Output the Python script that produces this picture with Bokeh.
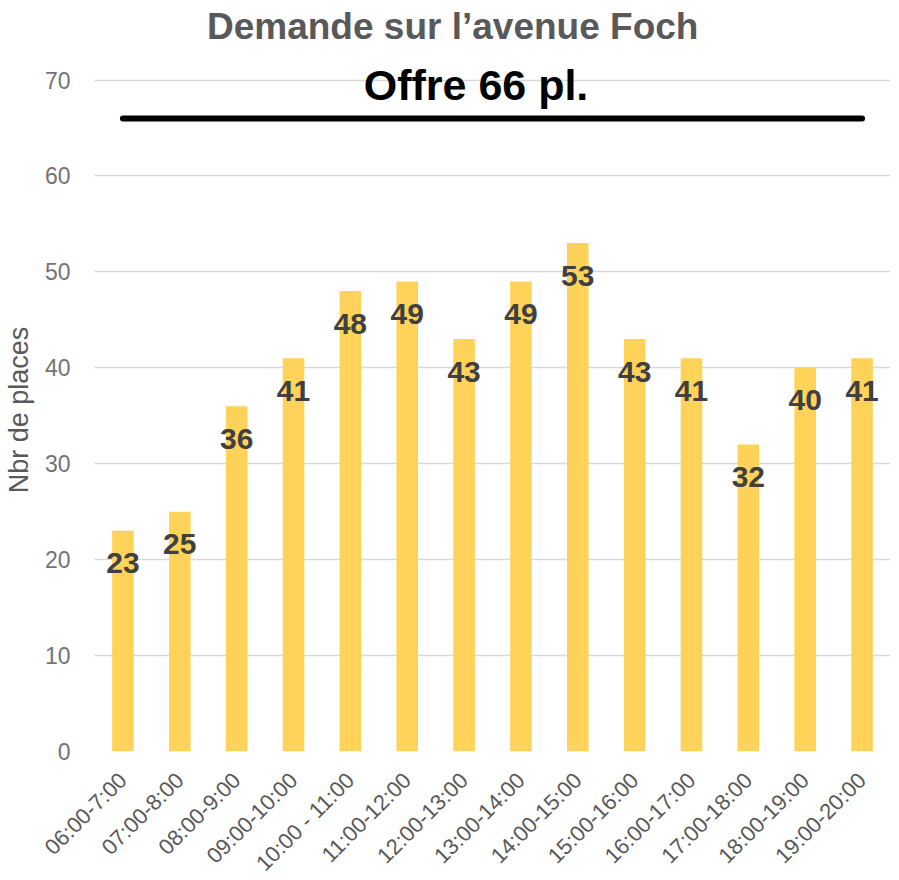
import math
from bokeh.plotting import figure
from bokeh.layouts import column
from bokeh.models import Range1d, FixedTicker, ColumnDataSource
from bokeh.core.properties import value
from bokeh.embed import file_html
from bokeh.resources import INLINE

# ---- data ----
categories = ["06:00-7:00", "07:00-8:00", "08:00-9:00", "09:00-10:00", "10:00 - 11:00",
              "11:00-12:00", "12:00-13:00", "13:00-14:00", "14:00-15:00", "15:00-16:00",
              "16:00-17:00", "17:00-18:00", "18:00-19:00", "19:00-20:00"]
demande = [23, 25, 36, 41, 48, 49, 43, 49, 53, 43, 41, 32, 40, 41]
offre = 66
offre_label = "Offre 66 pl."
y_ticks = [0, 10, 20, 30, 40, 50, 60, 70]
title_text = "Demande sur l’avenue Foch"
y_title = "Nbr de places"

FONT = "Liberation Sans"
idx = list(range(len(categories)))

# ---- title strip ----
t = figure(frame_width=796, frame_height=50, x_range=Range1d(0, 1), y_range=Range1d(0, 1),
           min_border_left=87, min_border_right=0, min_border_top=0, min_border_bottom=0,
           output_backend="svg", toolbar_location=None, tools="")
t.axis.visible = False
t.grid.grid_line_color = None
t.outline_line_color = None
t.text(x=[0.45], y=[0.48], text=[title_text], text_align="center",
       text_baseline="middle", text_font=value(FONT), text_font_size="37px",
       text_font_style="bold", text_color="#595959")

# ---- main chart ----
p = figure(frame_width=796, frame_height=683,
           min_border_left=87, min_border_right=0, min_border_top=18, min_border_bottom=110,
           x_range=Range1d(-0.5, len(categories) - 0.5), y_range=Range1d(0, 71.2),
           output_backend="svg", toolbar_location=None, tools="")

p.outline_line_color = None
p.background_fill_color = "white"

# bars
src = ColumnDataSource(dict(x=idx, top=demande,
                            ly=[v - 3.4 for v in demande],
                            txt=[str(v) for v in demande]))
p.vbar(x="x", top="top", bottom=0, width=0.38, source=src,
       fill_color="#FFD35A", line_color=None)

# value labels
p.text(x="x", y="ly", text="txt", source=src, text_align="center",
       text_baseline="middle", text_font=value(FONT), text_font_style="bold",
       text_font_size="30px", text_color="#404040")

# offer line
p.line(x=[idx[0], idx[-1]], y=[offre, offre], line_color="black", line_width=6,
       line_cap="round")
p.text(x=[6.21], y=[offre + 3.5], text=[offre_label], text_align="center",
       text_baseline="middle", text_font=value(FONT), text_font_style="bold",
       text_font_size="43px", text_color="black")

# axes
p.xaxis.ticker = FixedTicker(ticks=idx)
p.xaxis.major_label_overrides = {i: c for i, c in zip(idx, categories)}
p.xaxis.major_label_orientation = math.pi / 4
p.xaxis.major_label_text_font = FONT
p.xaxis.major_label_text_font_size = "22px"
p.xaxis.major_label_text_color = "#595959"
p.xaxis.major_label_standoff = 19
p.xaxis.axis_line_color = None
p.xaxis.major_tick_line_color = None
p.xaxis.minor_tick_line_color = None

p.yaxis.ticker = FixedTicker(ticks=y_ticks)
p.yaxis.axis_label = y_title
p.yaxis.axis_label_text_font = FONT
p.yaxis.axis_label_text_font_size = "27px"
p.yaxis.axis_label_text_font_style = "normal"
p.yaxis.axis_label_text_color = "#595959"
p.yaxis.axis_label_standoff = 8
p.yaxis.major_label_text_font = FONT
p.yaxis.major_label_text_font_size = "23px"
p.yaxis.major_label_text_color = "#737373"
p.yaxis.major_label_standoff = 18
p.yaxis.axis_line_color = None
p.yaxis.major_tick_line_color = None
p.yaxis.minor_tick_line_color = None

p.xgrid.grid_line_color = None
p.ygrid.grid_line_color = "#d9d9d9"
p.ygrid.grid_line_width = 1.5

layout = column(t, p, spacing=0)
open("out.html", "w").write(file_html(layout, INLINE))
